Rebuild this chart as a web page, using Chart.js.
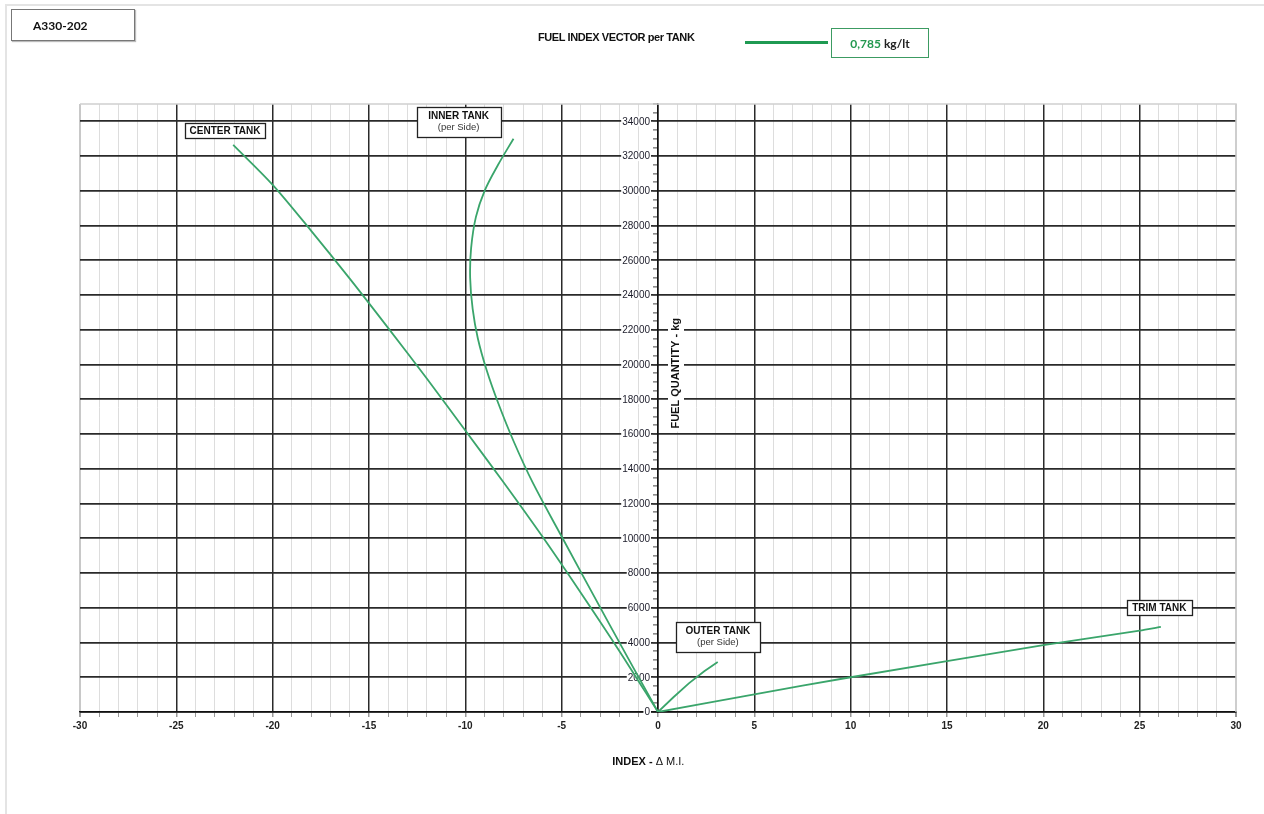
<!DOCTYPE html>
<html>
<head>
<meta charset="utf-8">
<script src="https://cdn.jsdelivr.net/npm/chart.js@4.4.1/dist/chart.umd.min.js"></script>
<style>
  html, body { margin: 0; padding: 0; background: #fff; }
  #page { position: relative; width: 1264px; height: 814px; overflow: hidden; font-family: 'Liberation Sans', Arial, sans-serif; }
  #frame { position: absolute; left: 5px; top: 4px; width: 1300px; height: 900px; border-left: 2px solid #e4e4e4; border-top: 2px solid #e4e4e4; }
  #model { position: absolute; left: 11px; top: 9px; width: 124px; height: 32px; box-sizing: border-box;
           border: 1px solid #777; box-shadow: 1px 1px 1px #bbb; background: #fff;
           display: flex; align-items: center; padding-left: 21px;
           font: bold 12px Lato, 'Open Sans', sans-serif; color: #111; }
  #title { position: absolute; left: 538px; top: 31px; font: bold 11px 'Liberation Sans', Arial, sans-serif; letter-spacing: -0.4px; color: #111; }
  #legLine { position: absolute; left: 745px; top: 41px; width: 83px; height: 2.5px; background: #1f9a52; }
  #legBox { position: absolute; left: 831px; top: 28px; width: 98px; height: 30px; box-sizing: border-box;
            border: 1px solid #3c9b62; display: flex; align-items: center; justify-content: center;
            font: bold 12px Lato, 'Open Sans', sans-serif; color: #222; white-space: pre; }
  #legBox span { color: #23984f; }
  canvas { position: absolute; left: 0; top: 0; }
</style>
</head>
<body>
<div id="page">
  <div id="frame"></div>
  <canvas id="chart" width="1264" height="814"></canvas>
  <div id="model">A330-202</div>
  <div id="title">FUEL INDEX VECTOR per TANK</div>
  <div id="legLine"></div>
  <div id="legBox"><span>0,785</span> kg/lt</div>
</div>
<script>
// Index (ΔMI) / fuel (kg) points
const centerIndex = [0, -2, -4, -6, -8, -10, -12, -14, -16, -18, -20, -22.05];
const centerFuel  = [0, 3500, 6850, 10100, 13200, 16200, 19200, 22100, 24950, 27700, 30350, 32650];

const innerIndex = [0, -2.5, -5, -6.5, -7.5, -8.3, -8.9, -9.35, -9.62, -9.75, -9.7, -9.45, -9.0, -8.3, -7.5];
const innerFuel  = [0, 5000, 10100, 13200, 15600, 17800, 19700, 21500, 23200, 25000, 26700, 28500, 30000, 31500, 33000];

const outerIndex = [0, 0.8, 1.6, 2.4, 3.1];
const outerFuel  = [0, 850, 1650, 2350, 2880];

const trimIndex = [0, 5, 10, 20, 25, 26.1];
const trimFuel  = [0, 1020, 2000, 3850, 4690, 4900];

const tankNames = ['CENTER TANK', 'INNER TANK', 'OUTER TANK', 'TRIM TANK'];
const tankNotes = ['', '(per Side)', '(per Side)', ''];

const indexMin = -30, indexMax = 30;
const fuelMax = 35000;

// where the tank name boxes sit (data coords of the box centre) and their size
const labelSpots = [
  { x: -22.47, y: 33460, w: 80, h: 15 },
  { x: -10.35, y: 33950, w: 84, h: 30 },
  { x: 3.11,   y: 4320,  w: 84, h: 30 },
  { x: 26.02,  y: 5990,  w: 65, h: 15 }
];

const GREEN = '#3aa56b';
const FONT = '"Liberation Sans", Arial, sans-serif';
const pts = (xs, ys) => xs.map((x, i) => ({ x, y: ys[i] }));

const series = [
  pts(centerIndex, centerFuel),
  pts(innerIndex, innerFuel),
  pts(outerIndex, outerFuel),
  pts(trimIndex, trimFuel)
];

// frame, fuel tick labels, axis titles, tank boxes
const decorations = {
  id: 'decorations',
  beforeDatasetsDraw(chart) {
    const { ctx, chartArea: a, scales: { x, y } } = chart;
    ctx.save();
    ctx.strokeStyle = '#cfcfcf';
    ctx.lineWidth = 1.5;
    ctx.beginPath();
    ctx.moveTo(a.left, a.top);
    ctx.lineTo(a.right, a.top);
    ctx.lineTo(a.right, a.bottom);
    ctx.stroke();

    // fuel labels sit left of the centre axis, on white
    const ax = x.getPixelForValue(0);
    ctx.font = '10px ' + FONT;
    ctx.textAlign = 'right';
    ctx.textBaseline = 'middle';
    y.ticks.forEach(t => {
      if (t.value % 2000 !== 0) return;
      const py = y.getPixelForValue(t.value);
      const s = String(t.value);
      const w = ctx.measureText(s).width;
      ctx.fillStyle = '#fff';
      ctx.fillRect(ax - 8 - w - 1, py - 5, w + 2, 10);
      ctx.fillStyle = '#1c1c2a';
      ctx.fillText(s, ax - 8, py + 0.5);
    });

    // y title, right of the axis, reading upward
    const tx = x.getPixelForValue(0) + 18;
    const ty = y.getPixelForValue(19500);
    ctx.translate(tx, ty);
    ctx.rotate(-Math.PI / 2);
    ctx.font = 'bold 11px ' + FONT;
    const label = 'FUEL QUANTITY - kg';
    const w = ctx.measureText(label).width;
    ctx.fillStyle = '#fff';
    ctx.fillRect(-w / 2 - 3, -8, w + 6, 16);
    ctx.fillStyle = '#111';
    ctx.textAlign = 'center';
    ctx.fillText(label, 0, 0);
    ctx.restore();

    // x title
    ctx.save();
    ctx.textBaseline = 'middle';
    const xt1 = 'INDEX - ', xt2 = '\u0394 M.I.';
    ctx.font = 'bold 11px ' + FONT;
    const w1 = ctx.measureText(xt1).width;
    ctx.font = '11px ' + FONT;
    const w2 = ctx.measureText(xt2).width;
    const sx = x.getPixelForValue(-0.5) - (w1 + w2) / 2;
    ctx.fillStyle = '#111';
    ctx.font = 'bold 11px ' + FONT;
    ctx.fillText(xt1, sx, 762);
    ctx.font = '11px ' + FONT;
    ctx.fillText(xt2, sx + w1, 762);
    ctx.restore();
  },
  afterDatasetsDraw(chart) {
    const { ctx, scales: { x, y } } = chart;
    ctx.save();
    tankNames.forEach((name, i) => {
      const s = labelSpots[i];
      const cx = x.getPixelForValue(s.x), cy = y.getPixelForValue(s.y);
      const left = Math.round(cx - s.w / 2) + 0.5, top = Math.round(cy - s.h / 2) + 0.5;
      ctx.fillStyle = '#fff';
      ctx.fillRect(left, top, s.w, s.h);
      ctx.strokeStyle = '#222';
      ctx.lineWidth = 1.3;
      ctx.strokeRect(left, top, s.w, s.h);
      ctx.textAlign = 'center';
      ctx.textBaseline = 'middle';
      ctx.fillStyle = '#111';
      ctx.font = 'bold 10px ' + FONT;
      if (tankNotes[i]) {
        ctx.fillText(name, cx, top + 9);
        ctx.font = '9.5px ' + FONT;
        ctx.fillStyle = '#333';
        ctx.fillText(tankNotes[i], cx, top + 20);
      } else {
        ctx.fillText(name, cx, top + s.h / 2 + 0.5);
      }
    });
    ctx.restore();
  }
};

new Chart(document.getElementById('chart'), {
  type: 'scatter',
  data: {
    datasets: series.map((d, i) => ({
      label: tankNames[i],
      data: d,
      showLine: true,
      borderColor: GREEN,
      borderWidth: 1.8,
      pointRadius: 0,
      tension: [0.3, 0.35, 0, 0.2][i],
      fill: false
    }))
  },
  options: {
    responsive: false,
    animation: false,
    events: [],
    layout: { padding: { left: 80, right: 28, top: 104, bottom: 72 } },
    plugins: { legend: { display: false }, tooltip: { enabled: false } },
    scales: {
      x: {
        type: 'linear',
        position: 'bottom',
        min: indexMin,
        max: indexMax,
        afterFit(scale) { scale.height = 30; },
        ticks: {
          stepSize: 1,
          autoSkip: false,
          maxRotation: 0,
          padding: 3,
          color: '#222',
          font: { family: FONT, size: 10, weight: 'bold' },
          callback: v => (v % 5 === 0 ? String(v) : '')
        },
        grid: {
          color: c => {
            const v = c.tick ? c.tick.value : 0;
            if (Math.abs(v) === 30) return '#c8c8c8';
            return v % 5 === 0 ? '#2a2a2a' : '#dddddd';
          },
          lineWidth: c => {
            const v = c.tick ? c.tick.value : 0;
            if (Math.abs(v) === 30) return 2;
            return v % 5 === 0 ? 1.5 : 1;
          },
          tickColor: '#999',
          tickLength: 5
        },
        border: { color: '#111', width: 1.5 }
      },
      y: {
        type: 'linear',
        position: { x: 0 },
        min: 0,
        max: fuelMax,
        ticks: {
          stepSize: 500,
          autoSkip: false,
          display: false
        },
        grid: {
          color: c => (c.tick && c.tick.value % 2000 === 0 ? '#2a2a2a' : 'rgba(0,0,0,0)'),
          lineWidth: 1.8,
          tickColor: '#444',
          tickWidth: 1,
          tickLength: 4
        },
        border: { color: '#111', width: 1.5 }
      }
    }
  },
  plugins: [decorations]
});
</script>
</body>
</html>
